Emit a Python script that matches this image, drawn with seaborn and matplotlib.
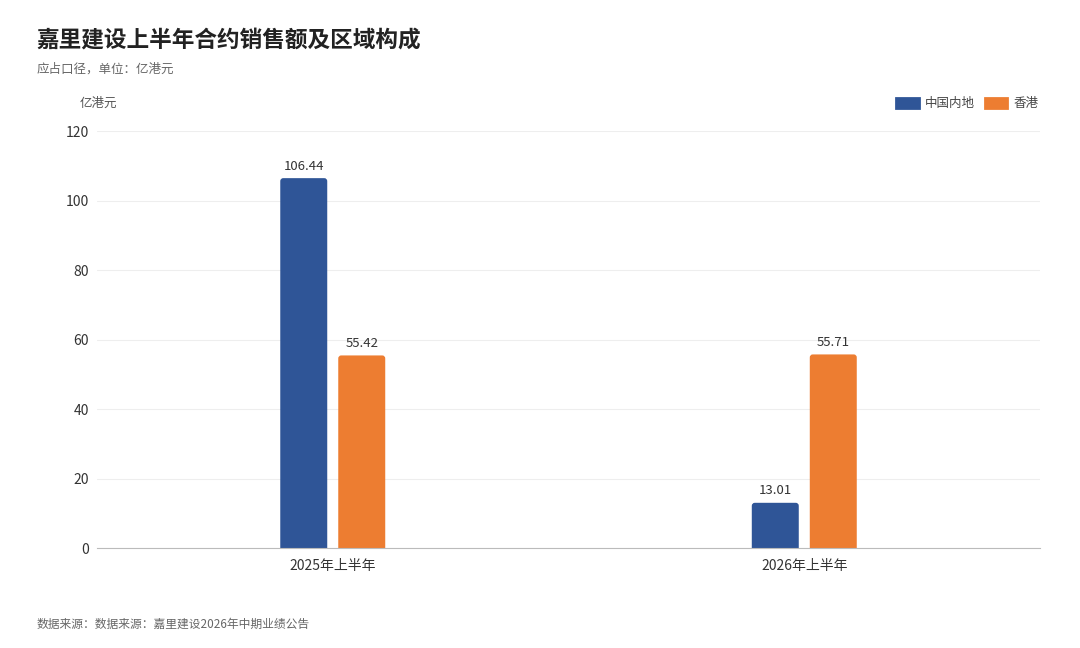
import pandas as pd
import matplotlib.pyplot as plt
import seaborn as sns
from matplotlib.patches import FancyBboxPatch, Patch

# 数据
periods = ['2025年上半年', '2026年上半年']
regions = ['中国内地', '香港']
mainland = [106.44, 13.01]
hongkong = [55.42, 55.71]
colors = ['#2F5597', '#ED7D31']

df = pd.DataFrame({
    'period': periods * 2,
    'region': [regions[0]] * 2 + [regions[1]] * 2,
    'value': mainland + hongkong,
})

sns.set_style('white')
plt.rcParams['font.family'] = ['Noto Sans CJK SC', 'DejaVu Sans']

fig = plt.figure(figsize=(10.8, 6.48), dpi=100)
ax = fig.add_axes([0.0898, 0.1543, 0.8732, 0.6435])

sns.barplot(data=df, x='period', y='value', hue='region', palette=colors,
            width=0.246, gap=0.19, saturation=1, ax=ax, legend=False)

# 圆角柱子（底部延伸到0以下，被坐标轴裁掉）
px_x = 0.8732 * 1080 / 2.0
px_y = 0.6435 * 648 / 120.0
for p in list(ax.patches):
    x, y = p.get_x(), p.get_y()
    w, h = p.get_width(), p.get_height()
    fb = FancyBboxPatch((x, y - 2), w, h + 2,
                        boxstyle='round,pad=0,rounding_size=%f' % (3.0 / px_x),
                        mutation_aspect=px_x / px_y,
                        facecolor=p.get_facecolor(), edgecolor='none', zorder=3)
    p.remove()
    ax.add_patch(fb)
    ax.text(x + w / 2, h + 1.6, '%.2f' % h, ha='center', va='bottom',
            fontsize=9.5, color='#333333')

ax.set_xlim(-0.5, 1.5)
ax.set_ylim(0, 120)
ax.set_yticks(range(0, 121, 20))
ax.yaxis.grid(True, color='#EEEEEE', linewidth=0.8)
ax.set_axisbelow(True)
for s in ['top', 'right', 'left']:
    ax.spines[s].set_visible(False)
ax.spines['bottom'].set_color('#BBBBBB')
ax.spines['bottom'].set_zorder(4)
ax.tick_params(axis='both', length=0, labelsize=10, colors='#333333', pad=8)
ax.tick_params(axis='y', pad=6)
ax.set_xlabel('')
ax.set_ylabel('')

# 标题
fig.text(0.034, 0.938, '嘉里建设上半年合约销售额及区域构成', fontsize=16.3,
         fontweight='bold', color='#222222', va='center')
fig.text(0.034, 0.893, '应占口径，单位：亿港元', fontsize=9, color='#666666', va='center')
fig.text(0.074, 0.840, '亿港元', fontsize=9, color='#555555', va='center')
fig.text(0.034, 0.036, '数据来源：数据来源：嘉里建设2026年中期业绩公告', fontsize=8.5,
         color='#666666', va='center')

handles = [Patch(facecolor=c, edgecolor=c, linewidth=2, joinstyle='round') for c in colors]
leg = fig.legend(handles, regions, loc='center right', bbox_to_anchor=(0.972, 0.84),
                 ncol=2, frameon=False, fontsize=9, handlelength=1.8, handleheight=0.9,
                 columnspacing=0.8, handletextpad=0.5)
for t in leg.get_texts():
    t.set_color('#444444')

fig.savefig('out.png', dpi=100)
